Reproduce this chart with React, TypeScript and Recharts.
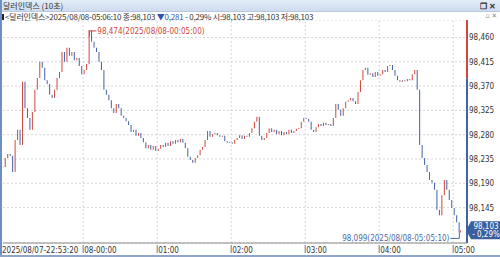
import React from 'react';
import { ComposedChart, Bar, Cell, XAxis, YAxis, CartesianGrid, ReferenceLine, ReferenceDot } from 'recharts';

// ---- data ----
const START_MIN = -65; // minutes relative to 2025/08/08 00:00
const STEP_MIN = 2;
const closeValues: number[] = [
  98.220, 98.237, 98.244, 98.241, 98.211, 98.270, 98.289, 98.261, 98.378, 98.329,
  98.311, 98.289, 98.322, 98.363, 98.385, 98.415, 98.404, 98.381, 98.374, 98.354,
  98.348, 98.363, 98.385, 98.396, 98.433, 98.415, 98.441, 98.426, 98.433, 98.418,
  98.422, 98.407, 98.392, 98.400, 98.411, 98.474, 98.452, 98.441, 98.433, 98.415,
  98.400, 98.363, 98.354, 98.344, 98.329, 98.320, 98.337, 98.329, 98.315, 98.311,
  98.305, 98.298, 98.285, 98.289, 98.278, 98.283, 98.274, 98.266, 98.255, 98.261,
  98.252, 98.259, 98.250, 98.254, 98.261, 98.257, 98.265, 98.259, 98.268, 98.263,
  98.270, 98.266, 98.272, 98.265, 98.255, 98.239, 98.233, 98.228, 98.237, 98.242,
  98.252, 98.257, 98.270, 98.287, 98.276, 98.281, 98.283, 98.279, 98.276, 98.278,
  98.268, 98.265, 98.266, 98.263, 98.270, 98.274, 98.279, 98.272, 98.278, 98.276,
  98.283, 98.292, 98.304, 98.313, 98.278, 98.270, 98.274, 98.283, 98.292, 98.285,
  98.289, 98.281, 98.287, 98.279, 98.285, 98.281, 98.289, 98.283, 98.287, 98.291,
  98.292, 98.304, 98.311, 98.309, 98.304, 98.289, 98.285, 98.294, 98.300, 98.296,
  98.302, 98.298, 98.300, 98.296, 98.311, 98.337, 98.326, 98.315, 98.329, 98.341,
  98.344, 98.348, 98.342, 98.337, 98.359, 98.381, 98.400, 98.404, 98.391, 98.394,
  98.387, 98.396, 98.389, 98.392, 98.400, 98.396, 98.407, 98.409, 98.400, 98.389,
  98.381, 98.378, 98.381, 98.379, 98.383, 98.381, 98.392, 98.400, 98.363, 98.261,
  98.237, 98.224, 98.211, 98.196, 98.191, 98.178, 98.141, 98.131, 98.168, 98.196,
  98.178, 98.159, 98.144, 98.131, 98.118, 98.099,
];
const lastTimeMin = 306.17;
const lastClose = 98.103;
const prevClose = 98.384;
const yTicks = [98.145, 98.19, 98.235, 98.28, 98.325, 98.37, 98.415, 98.46];
const hourTicks = [0, 60, 120, 180, 240, 300];
const hourLabels = ['08-00:00', '01:00', '02:00', '03:00', '04:00', '05:00'];
const startLabel = '2025/08/07-22:53:20';
const highTime = 5;
const highValue = 98.474;
const highLabel = '98,474(2025/08/08-00:05:00)';
const lowTime = 305;
const lowValue = 98.099;
const lowLabel = '98,099(2025/08/08-05:05:10)';
const titleText = '달러인덱스 (10초)';
const infoParts = {
  head: '<달러인덱스>2025/08/08-05:06:10 종:98,103 ',
  change: '▼0,281',
  tail: ' - 0,29%  시:98,103 고:98,103 저:98,103',
};
const closeBoxLines = ['98,103', '- 0,29%'];

const X_MIN = -65;
const X_MAX = 311.2;
const Y_MIN = 98.0794;
const Y_MAX = 98.4924;

const UP = '#d0473d';
const DOWN = '#3f63a6';
const FONT = "'DejaVu Sans Condensed', 'Liberation Sans Narrow', 'Liberation Sans', sans-serif";

const times = closeValues.map((_, i) => START_MIN + i * STEP_MIN).concat([lastTimeMin]);
const closes = closeValues.concat([lastClose]);
const data = closes.map((c, i) => {
  const o = i === 0 ? c : closes[i - 1];
  let lo = Math.min(o, c);
  let hi = Math.max(o, c);
  if (hi - lo < 0.0012) {
    lo -= 0.0006;
    hi += 0.0006;
  }
  return { t: times[i], range: [lo, hi], up: c >= o };
});

const fmt = (v: number) => v.toFixed(3).replace('.', ',');

const XTick = (props: any) => {
  const { x, y, payload } = props;
  const idx = hourTicks.indexOf(payload.value);
  if (idx < 0) {
    return (
      <text x={x - 1} y={y + 10} fontSize={8} fill="#333" fontFamily={FONT} textAnchor="start">
        {startLabel}
      </text>
    );
  }
  return (
    <g>
      <line x1={x} y1={y + 2} x2={x} y2={y + 10} stroke="#777" strokeWidth={1} />
      <text x={x + 1} y={y + 10} fontSize={8} fill="#333" fontFamily={FONT} textAnchor="start">
        {hourLabels[idx]}
      </text>
    </g>
  );
};

const YTick = (props: any) => {
  const { x, y, payload } = props;
  return (
    <text x={x} y={y + 3} fontSize={8} fill="#333" fontFamily={FONT} textAnchor="start">
      {fmt(payload.value)}
    </text>
  );
};

const HighShape = (p: any) => {
  const { cx, cy } = p;
  return (
    <g>
      <line x1={cx} y1={cy + 1} x2={cx} y2={cy + 7} stroke={UP} strokeWidth={1} />
      <line x1={cx} y1={cy + 1} x2={cx + 7} y2={cy + 1} stroke={UP} strokeWidth={1} />
      <text x={cx + 8} y={cy + 4} fontSize={8} fill={UP} fontFamily={FONT}>
        {highLabel}
      </text>
    </g>
  );
};

const LowShape = (p: any) => {
  const { cx, cy } = p;
  return (
    <g>
      <line x1={cx} y1={cy} x2={cx} y2={cy + 6} stroke="#4a6aa4" strokeWidth={1} />
      <line x1={cx - 9} y1={cy + 6} x2={cx} y2={cy + 6} stroke="#4a6aa4" strokeWidth={1} />
      <text x={cx - 10} y={cy + 9} fontSize={8} fill="#4a6aa4" fontFamily={FONT} textAnchor="end">
        {lowLabel}
      </text>
    </g>
  );
};

const CloseBox = (p: any) => {
  const { cx, cy } = p;
  const x0 = cx - 1;
  return (
    <g>
      <polygon
        points={`${x0},${cy} ${x0 + 5},${cy - 9} ${x0 + 34},${cy - 9} ${x0 + 34},${cy + 9} ${x0 + 5},${cy + 9}`}
        fill="#3c5f9e"
      />
      <text x={x0 + 20} y={cy - 1} fontSize={8} fill="#fff" fontFamily={FONT} textAnchor="middle">
        {closeBoxLines[0]}
      </text>
      <text x={x0 + 20} y={cy + 7} fontSize={8} fill="#fff" fontFamily={FONT} textAnchor="middle">
        {closeBoxLines[1]}
      </text>
    </g>
  );
};

export default function App() {
  return (
    <div
      style={{
        position: 'fixed',
        left: 0,
        top: 0,
        width: 500,
        height: 257,
        background: '#fff',
        overflow: 'hidden',
        fontFamily: FONT,
      }}
    >
      <div
        style={{
          position: 'absolute',
          left: 0,
          top: 0,
          width: 500,
          height: 11,
          background: 'linear-gradient(#e4edf8, #cfdcee)',
          borderBottom: '1px solid #b8c8de',
          color: '#333',
          fontFamily: "'Noto Sans CJK KR', sans-serif",
        }}
      >
        <span style={{ position: 'absolute', left: 3, top: 0, fontSize: 8, lineHeight: '11px' }}>{titleText}</span>
        <span style={{ position: 'absolute', right: 4, top: 0, fontWeight: 'bold', fontSize: 8, lineHeight: '11px' }}>
          ❐ ✕
        </span>
      </div>
      <div
        style={{
          position: 'absolute',
          left: 2,
          top: 12,
          fontSize: 8,
          lineHeight: '10px',
          color: '#333',
          whiteSpace: 'nowrap',
          fontFamily: "'Noto Sans CJK KR', sans-serif",
          letterSpacing: -0.2,
        }}
      >
        <span style={{ display: 'inline-block', width: 2, height: 6, background: '#222', marginRight: 1 }} />
        {infoParts.head}
        <span style={{ color: '#2f55a8' }}>{infoParts.change}</span>
        {infoParts.tail}
      </div>
      <div
        style={{
          position: 'absolute',
          right: 3,
          top: 12,
          fontSize: 7,
          lineHeight: '9px',
          color: '#888',
        }}
      >
        ▫ ✕
      </div>
      <div style={{ position: 'absolute', left: 0, top: 0, width: 2, height: 257, background: '#6c8fc4' }} />
      <div style={{ position: 'absolute', left: 0, top: 20 }}>
        <ComposedChart
          width={500}
          height={237}
          data={data}
          margin={{ top: 0, right: 0, left: 3, bottom: 0 }}
          barCategoryGap={0}
        >
          <CartesianGrid vertical={false} stroke="#d6d6d6" strokeDasharray="2 2" />
          {hourTicks.map((h) => (
            <ReferenceLine key={h} x={h} stroke="#d6d6d6" strokeDasharray="2 2" />
          ))}
          <XAxis
            dataKey="t"
            type="number"
            domain={[X_MIN, X_MAX]}
            allowDataOverflow
            ticks={[X_MIN, ...hourTicks]}
            tick={<XTick />}
            tickLine={false}
            tickSize={0}
            tickMargin={0}
            height={14}
            axisLine={{ stroke: '#8a8a8a' }}
            interval={0}
          />
          <YAxis
            orientation="right"
            type="number"
            domain={[Y_MIN, Y_MAX]}
            allowDataOverflow
            ticks={yTicks}
            tick={<YTick />}
            tickLine={false}
            tickSize={0}
            tickMargin={2}
            axisLine={false}
            width={33}
            interval={0}
          />
          <Bar dataKey="range" barSize={1} isAnimationActive={false}>
            {data.map((d, i) => (
              <Cell key={i} fill={d.up ? UP : DOWN} />
            ))}
          </Bar>
          <ReferenceLine
            segment={[{ x: X_MAX, y: Y_MAX }, { x: X_MAX, y: prevClose }]}
            stroke={UP}
            strokeWidth={2}
            ifOverflow="visible"
          />
          <ReferenceLine
            segment={[{ x: X_MAX, y: prevClose }, { x: X_MAX, y: Y_MIN }]}
            stroke={DOWN}
            strokeWidth={2}
            ifOverflow="visible"
          />
          <ReferenceDot x={highTime} y={highValue} r={0} shape={<HighShape />} ifOverflow="visible" />
          <ReferenceDot x={lowTime} y={lowValue} r={0} shape={<LowShape />} ifOverflow="visible" />
          <ReferenceDot x={X_MAX} y={lastClose} r={0} shape={<CloseBox />} ifOverflow="visible" />
        </ComposedChart>
      </div>
      <div style={{ position: 'absolute', left: 0, top: 255, width: 500, height: 2, background: '#8fa6c8' }} />
    </div>
  );
}
